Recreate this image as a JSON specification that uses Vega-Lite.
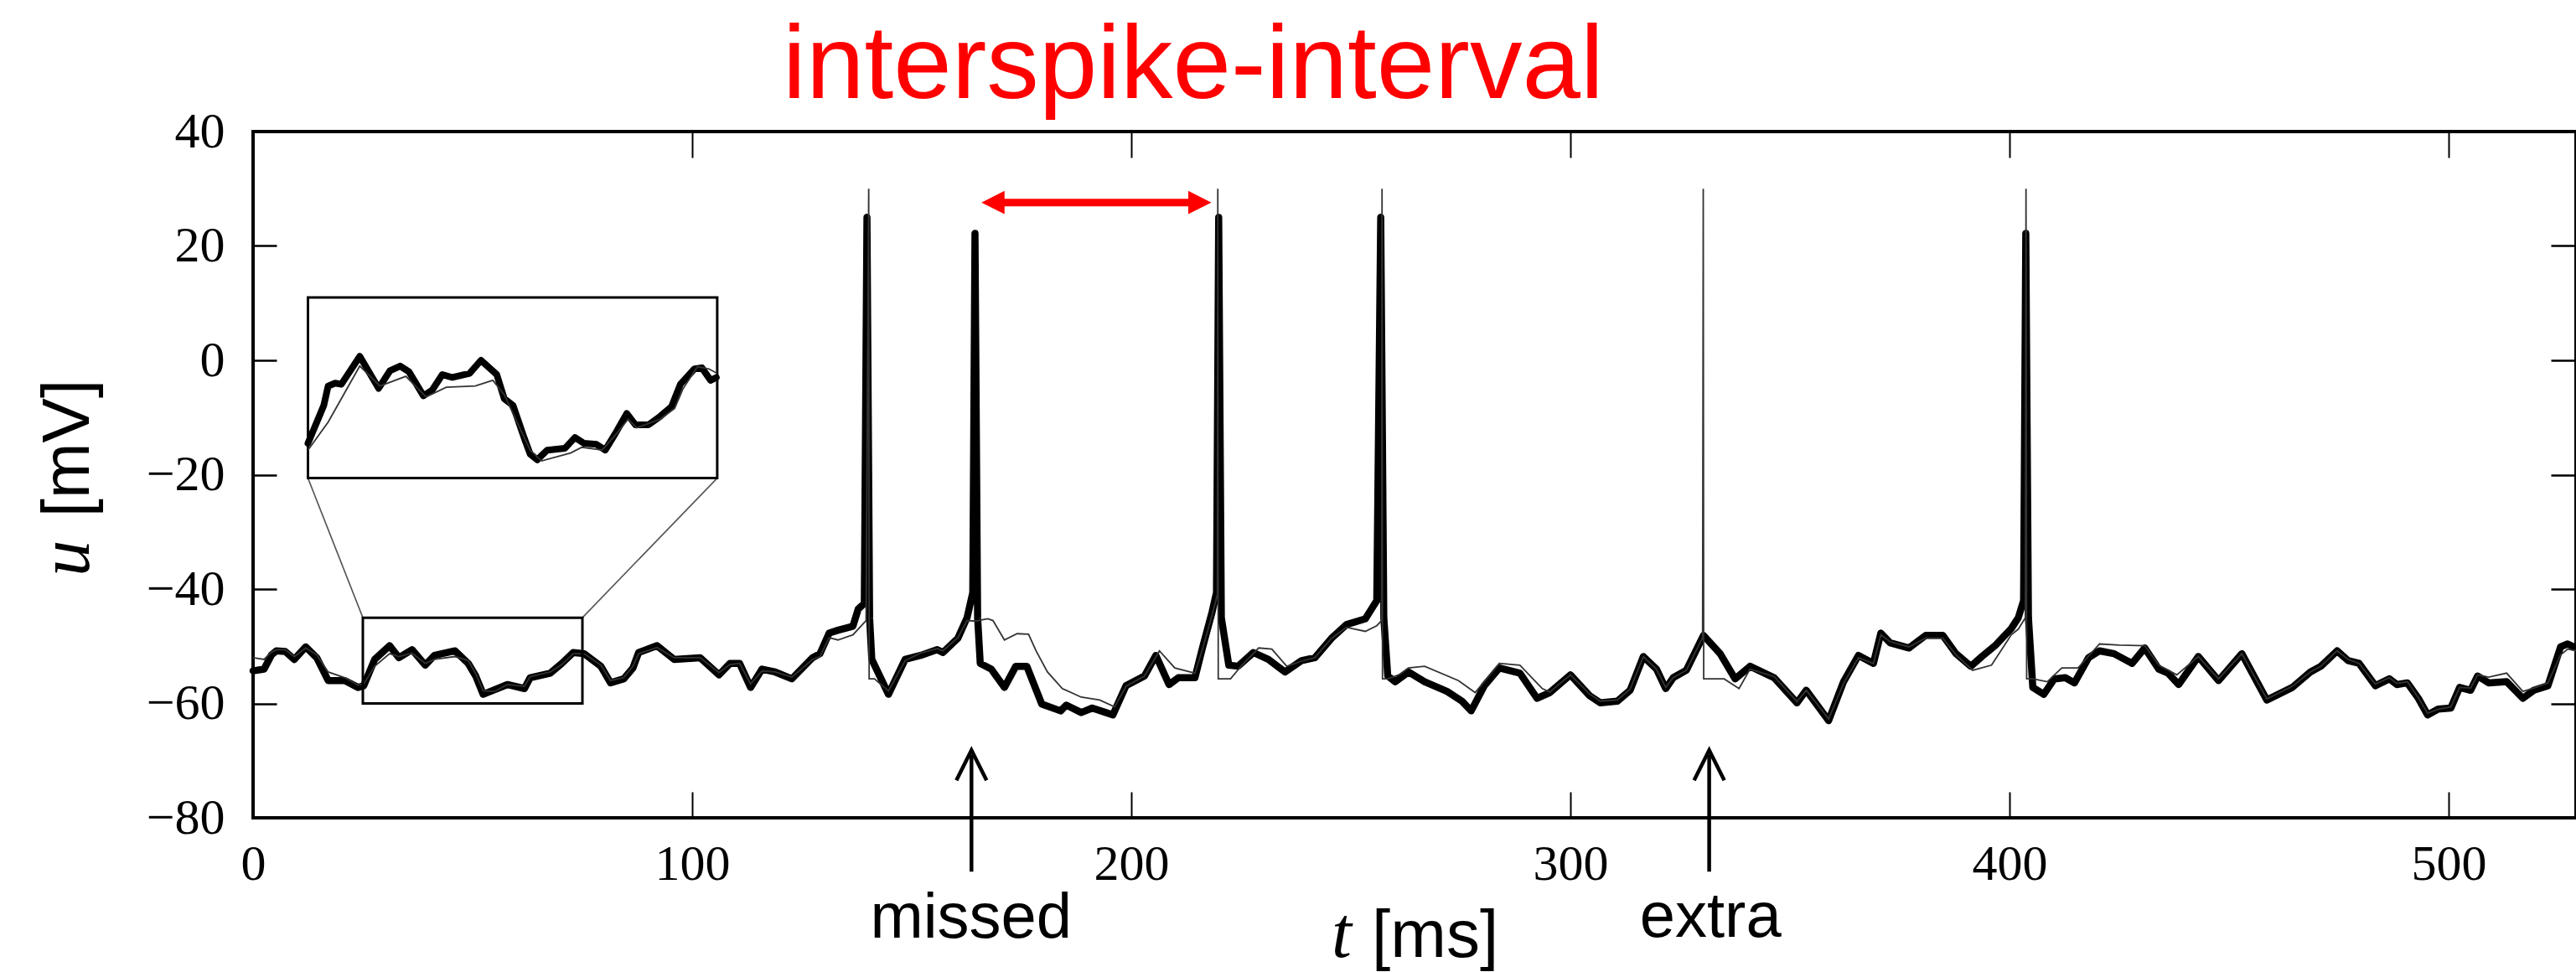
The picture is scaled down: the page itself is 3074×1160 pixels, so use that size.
{
  "$schema": "https://vega.github.io/schema/vega-lite/v6.json",
  "autosize": "none",
  "width": 2772,
  "height": 819,
  "padding": {"left": 302, "top": 157, "right": 0, "bottom": 184},
  "background": "white",
  "config": {"view": {"stroke": "black", "strokeWidth": 4}, "font": "Liberation Sans"},
  "datasets": {
    "exp": [
      {"t":0,"u":-54.3},{"t":2.5,"u":-54.0},{"t":4.2,"u":-51.5},{"t":5.3,"u":-50.8},{"t":7.3,"u":-50.9},{"t":9.4,"u":-52.3},{"t":12,"u":-50.1},{"t":14.5,"u":-52},{"t":17.1,"u":-56},{"t":20.9,"u":-56},{"t":23.9,"u":-57.2},{"t":25.2,"u":-56.9},{"t":27.7,"u":-52.3},{"t":31.1,"u":-49.9},{"t":33.2,"u":-52},{"t":36.2,"u":-50.6},{"t":39.2,"u":-53.3},{"t":41.3,"u":-51.6},{"t":46,"u":-50.8},{"t":49,"u":-53},{"t":50.7,"u":-55.2},{"t":52.4,"u":-58.4},{"t":55,"u":-57.6},{"t":57.9,"u":-56.7},{"t":61.8,"u":-57.4},{"t":63.1,"u":-55.5},{"t":67.7,"u":-54.7},{"t":70.3,"u":-53},{"t":72.9,"u":-51.1},{"t":75.4,"u":-51.3},{"t":79.2,"u":-53.5},{"t":81.4,"u":-56.4},{"t":84.4,"u":-55.7},{"t":86.5,"u":-53.8},{"t":87.8,"u":-51.1},{"t":92,"u":-49.9},{"t":95.9,"u":-52.3},{"t":101.8,"u":-52},{"t":106.1,"u":-55},{"t":108.6,"u":-53},{"t":110.8,"u":-53},{"t":113.3,"u":-57.2},{"t":115.9,"u":-54},{"t":118.9,"u":-54.5},{"t":122.7,"u":-55.7},{"t":127.4,"u":-52},{"t":129.1,"u":-51.3},{"t":131.2,"u":-47.7},{"t":133.2,"u":-47.2},{"t":136.6,"u":-46.5},{"t":137.8,"u":-43.5},{"t":139.2,"u":-42.5},{"t":139.8,"u":25},{"t":140.4,"u":-45},{"t":140.9,"u":-52.3},{"t":144.7,"u":-58.4},{"t":148.5,"u":-52.3},{"t":152,"u":-51.6},{"t":155.8,"u":-50.6},{"t":157.1,"u":-51.1},{"t":160.5,"u":-48.6},{"t":162.6,"u":-45},{"t":163.9,"u":-40.6},{"t":164.4,"u":22.2},{"t":165.0,"u":-45},{"t":165.6,"u":-53},{"t":168.1,"u":-54},{"t":171.1,"u":-57.2},{"t":173.7,"u":-53.5},{"t":176.2,"u":-53.5},{"t":179.6,"u":-60.1},{"t":183.9,"u":-61.3},{"t":185.2,"u":-60.3},{"t":188.6,"u":-61.6},{"t":191.1,"u":-60.8},{"t":195.8,"u":-62},{"t":198.8,"u":-56.9},{"t":203,"u":-55.2},{"t":205.6,"u":-51.6},{"t":208.6,"u":-56.7},{"t":210.7,"u":-55.5},{"t":214.5,"u":-55.5},{"t":216.2,"u":-50.3},{"t":218.4,"u":-44},{"t":219.4,"u":-40.6},{"t":219.9,"u":25},{"t":220.5,"u":-45},{"t":222.2,"u":-53.3},{"t":224.3,"u":-53.5},{"t":227.8,"u":-51.1},{"t":231.2,"u":-52.3},{"t":235,"u":-54.5},{"t":238.8,"u":-52.5},{"t":241.8,"u":-52},{"t":245.6,"u":-48.6},{"t":249,"u":-46.2},{"t":253.3,"u":-45.2},{"t":255.9,"u":-42},{"t":256.8,"u":25},{"t":257.5,"u":-45},{"t":258.4,"u":-55.2},{"t":260.1,"u":-56.2},{"t":263.1,"u":-54.5},{"t":266.8,"u":-56.2},{"t":271.9,"u":-57.9},{"t":275.3,"u":-59.6},{"t":277.4,"u":-61.3},{"t":280.4,"u":-56.9},{"t":283.8,"u":-53.8},{"t":288.5,"u":-54.7},{"t":292.4,"u":-59.1},{"t":295.3,"u":-58.1},{"t":300,"u":-55},{"t":304.3,"u":-58.6},{"t":306.8,"u":-59.9},{"t":310.7,"u":-59.6},{"t":313.6,"u":-57.7},{"t":316.6,"u":-51.8},{"t":319.6,"u":-54},{"t":321.7,"u":-57.4},{"t":323.4,"u":-55.5},{"t":326.4,"u":-54.2},{"t":330.3,"u":-48.1},{"t":334.1,"u":-51.3},{"t":337.5,"u":-55.7},{"t":340.9,"u":-53.5},{"t":346.4,"u":-55.5},{"t":351.6,"u":-59.9},{"t":353.7,"u":-57.7},{"t":358.8,"u":-63},{"t":362.2,"u":-56.2},{"t":365.6,"u":-51.6},{"t":369,"u":-53},{"t":370.7,"u":-47.7},{"t":372.8,"u":-49.4},{"t":377.1,"u":-50.3},{"t":380.9,"u":-48.1},{"t":384.8,"u":-48.1},{"t":387.8,"u":-51.3},{"t":391.2,"u":-53.5},{"t":393.7,"u":-51.8},{"t":396.7,"u":-49.9},{"t":400.4,"u":-46.9},{"t":402,"u":-45},{"t":403.2,"u":-42},{"t":403.7,"u":22.2},{"t":404.3,"u":-45},{"t":405.3,"u":-57.2},{"t":407.8,"u":-58.4},{"t":410.2,"u":-55.7},{"t":412.7,"u":-55.5},{"t":414.8,"u":-56.4},{"t":418,"u":-52},{"t":420.5,"u":-50.8},{"t":423.8,"u":-51.3},{"t":427.9,"u":-53},{"t":430.8,"u":-50.3},{"t":434,"u":-54},{"t":436.1,"u":-54.7},{"t":438.5,"u":-56.7},{"t":443,"u":-51.8},{"t":447.6,"u":-56},{"t":452.9,"u":-51.3},{"t":458.6,"u":-59.4},{"t":464.4,"u":-57.2},{"t":468.5,"u":-54.5},{"t":470.9,"u":-53.5},{"t":474.6,"u":-50.8},{"t":477.1,"u":-52.5},{"t":479.6,"u":-53},{"t":483.3,"u":-56.9},{"t":486.5,"u":-55.7},{"t":488.2,"u":-56.7},{"t":490.6,"u":-56.4},{"t":493.1,"u":-59.1},{"t":495.2,"u":-62},{"t":497.6,"u":-61},{"t":500.5,"u":-60.8},{"t":502.5,"u":-57.2},{"t":505,"u":-57.7},{"t":506.6,"u":-55.2},{"t":509.1,"u":-56.4},{"t":513.2,"u":-56.2},{"t":516.9,"u":-59.1},{"t":519.4,"u":-57.7},{"t":522.6,"u":-56.9},{"t":525.5,"u":-50.1},{"t":527.1,"u":-49.6},{"t":529,"u":-50.3}
    ],
    "model": [
      {"t":0,"u":-52},{"t":2.5,"u":-52.3},{"t":4.2,"u":-51},{"t":5.3,"u":-50.6},{"t":7.3,"u":-50.6},{"t":9.4,"u":-51.8},{"t":12,"u":-50.3},{"t":14.5,"u":-51.5},{"t":17.1,"u":-54.5},{"t":20.9,"u":-55.5},{"t":23.9,"u":-56.8},{"t":25.2,"u":-56.6},{"t":27.7,"u":-53.5},{"t":31.1,"u":-51.3},{"t":33.2,"u":-51.8},{"t":36.2,"u":-51.2},{"t":39.2,"u":-53},{"t":41.3,"u":-52.3},{"t":46,"u":-51.8},{"t":49,"u":-52.5},{"t":50.7,"u":-54.8},{"t":52.4,"u":-57.8},{"t":55,"u":-57.9},{"t":57.9,"u":-56.7},{"t":61.8,"u":-57},{"t":63.1,"u":-55.3},{"t":67.7,"u":-54.5},{"t":70.3,"u":-53.2},{"t":72.9,"u":-51.3},{"t":75.4,"u":-51.3},{"t":79.2,"u":-53.3},{"t":81.4,"u":-56},{"t":84.4,"u":-55.5},{"t":86.5,"u":-53.5},{"t":87.8,"u":-51.3},{"t":92,"u":-50.2},{"t":95.9,"u":-52},{"t":101.8,"u":-52},{"t":106.1,"u":-54.6},{"t":108.6,"u":-53.2},{"t":110.8,"u":-53},{"t":113.3,"u":-56.6},{"t":115.9,"u":-54.3},{"t":118.9,"u":-54.5},{"t":122.7,"u":-55.4},{"t":127.4,"u":-52.3},{"t":129.1,"u":-51.8},{"t":131.2,"u":-48.5},{"t":133.2,"u":-48.9},{"t":136.6,"u":-48},{"t":139.6,"u":-45.5},{"t":140.2,"u":30},{"t":140.3,"u":-55.7},{"t":141.5,"u":-55.7},{"t":144.7,"u":-57.8},{"t":148.5,"u":-52.5},{"t":152,"u":-51.2},{"t":155.8,"u":-50.4},{"t":157.1,"u":-50.8},{"t":160.5,"u":-48.5},{"t":162.6,"u":-45.5},{"t":164.5,"u":-45.6},{"t":167.3,"u":-45.2},{"t":168.5,"u":-45.5},{"t":171.1,"u":-48.9},{"t":174,"u":-47.8},{"t":176.6,"u":-47.9},{"t":178.3,"u":-50.8},{"t":180.9,"u":-54.5},{"t":184.3,"u":-57.4},{"t":188.6,"u":-58.9},{"t":192.8,"u":-59.4},{"t":196.2,"u":-60.6},{"t":198.8,"u":-57},{"t":203,"u":-55.2},{"t":206.4,"u":-50.8},{"t":209.9,"u":-53.8},{"t":214.5,"u":-54.7},{"t":216.2,"u":-50.5},{"t":218.4,"u":-44.5},{"t":219.6,"u":-41},{"t":219.7,"u":30},{"t":219.8,"u":-55.7},{"t":222.6,"u":-55.7},{"t":225.2,"u":-53.3},{"t":229,"u":-50.3},{"t":232,"u":-50.5},{"t":235.4,"u":-53.5},{"t":238.8,"u":-52.6},{"t":241.8,"u":-52},{"t":245.6,"u":-48.6},{"t":249,"u":-46.7},{"t":253.3,"u":-47.4},{"t":255.9,"u":-46.4},{"t":257.0,"u":-45.5},{"t":257.1,"u":30},{"t":257.2,"u":-55.7},{"t":258.4,"u":-55.7},{"t":260.9,"u":-55},{"t":263.1,"u":-53.8},{"t":266.8,"u":-53.5},{"t":274.5,"u":-56},{"t":278.3,"u":-58.1},{"t":283.8,"u":-53},{"t":288.5,"u":-53.3},{"t":293.6,"u":-57.4},{"t":295.3,"u":-58},{"t":300,"u":-55},{"t":304.3,"u":-58.3},{"t":306.8,"u":-59.6},{"t":310.7,"u":-59.4},{"t":313.6,"u":-57.5},{"t":316.6,"u":-51.8},{"t":319.6,"u":-54},{"t":321.7,"u":-57.2},{"t":323.4,"u":-55.5},{"t":326.4,"u":-54.2},{"t":330.1,"u":-48.5},{"t":330.25,"u":30},{"t":330.35,"u":-55.7},{"t":335,"u":-55.7},{"t":338.4,"u":-57.4},{"t":340.9,"u":-54},{"t":346.4,"u":-55.3},{"t":351.6,"u":-59.7},{"t":353.7,"u":-57.7},{"t":358.8,"u":-62.7},{"t":362.2,"u":-56.5},{"t":365.6,"u":-52},{"t":369,"u":-53},{"t":370.7,"u":-48},{"t":372.8,"u":-49.2},{"t":377.1,"u":-50.1},{"t":380.9,"u":-48.6},{"t":384.8,"u":-48.6},{"t":387.8,"u":-51.5},{"t":391.6,"u":-54.2},{"t":395.9,"u":-53.3},{"t":400.4,"u":-48},{"t":402,"u":-47},{"t":403.6,"u":-45},{"t":403.75,"u":30},{"t":403.9,"u":-55.7},{"t":405.3,"u":-55.7},{"t":408.6,"u":-56.2},{"t":411.9,"u":-53.8},{"t":415.6,"u":-53.8},{"t":420.5,"u":-49.6},{"t":425,"u":-49.8},{"t":430.8,"u":-49.9},{"t":434,"u":-53.3},{"t":438.1,"u":-55},{"t":443,"u":-51.8},{"t":447.6,"u":-55.7},{"t":452.9,"u":-51.3},{"t":458.6,"u":-59.2},{"t":464.4,"u":-57},{"t":468.5,"u":-54.5},{"t":470.9,"u":-53.5},{"t":474.6,"u":-50.8},{"t":477.1,"u":-52.3},{"t":479.6,"u":-53},{"t":483.3,"u":-56.6},{"t":486.5,"u":-55.5},{"t":488.2,"u":-56.5},{"t":490.6,"u":-56.2},{"t":493.1,"u":-59},{"t":495.2,"u":-61.7},{"t":497.6,"u":-61},{"t":500.5,"u":-60.6},{"t":502.5,"u":-57.2},{"t":505,"u":-57.3},{"t":506.6,"u":-55},{"t":509.1,"u":-55.4},{"t":513.2,"u":-54.7},{"t":516.9,"u":-57.9},{"t":519.4,"u":-57.3},{"t":522.6,"u":-56.4},{"t":525.5,"u":-51.5},{"t":527.1,"u":-50.5},{"t":529,"u":-50.8}
    ],
    "insetExp": [
      {"t":12.5,"u":-14.5},{"t":16.1,"u":-7.9},{"t":17.1,"u":-4.5},{"t":18.7,"u":-4},{"t":20.1,"u":-4.2},{"t":24.3,"u":0.7},{"t":28.6,"u":-4.9},{"t":31.2,"u":-1.8},{"t":33.5,"u":-1},{"t":35.5,"u":-2},{"t":38.8,"u":-6.2},{"t":40.8,"u":-5.2},{"t":43.1,"u":-2.5},{"t":45.4,"u":-3},{"t":49.3,"u":-2.3},{"t":51.9,"u":0},{"t":55.5,"u":-2.5},{"t":57.2,"u":-6.7},{"t":59.2,"u":-7.9},{"t":61.8,"u":-13.7},{"t":63.1,"u":-16.4},{"t":64.7,"u":-17.4},{"t":67,"u":-15.7},{"t":71,"u":-15.4},{"t":73.3,"u":-13.5},{"t":75.3,"u":-14.5},{"t":78.2,"u":-14.7},{"t":80.2,"u":-15.7},{"t":82.5,"u":-12.8},{"t":85.1,"u":-9.3},{"t":87.1,"u":-11.3},{"t":90,"u":-11.3},{"t":92.7,"u":-9.8},{"t":95.3,"u":-8.1},{"t":97.3,"u":-4.2},{"t":100.5,"u":-1.5},{"t":102.2,"u":-1.3},{"t":104.2,"u":-3.5},{"t":105.5,"u":-3}
    ],
    "insetModel": [
      {"t":12.5,"u":-15.7},{"t":17.1,"u":-10.8},{"t":24.3,"u":-1},{"t":28.9,"u":-4.5},{"t":34.8,"u":-2.8},{"t":39.4,"u":-6.4},{"t":44,"u":-4.7},{"t":50.6,"u":-4.5},{"t":54.6,"u":-3.5},{"t":57.2,"u":-6},{"t":59.8,"u":-10.3},{"t":63.1,"u":-15.7},{"t":65.7,"u":-17.6},{"t":72.3,"u":-16.2},{"t":74.9,"u":-15.2},{"t":79.5,"u":-15.7},{"t":82.8,"u":-12.8},{"t":85.4,"u":-10.3},{"t":87.4,"u":-11.8},{"t":92.7,"u":-10.3},{"t":96,"u":-8.4},{"t":97.9,"u":-5},{"t":101.2,"u":-1.1},{"t":103.8,"u":-1.5},{"t":105.5,"u":-2.2}
    ],
    "connectors": [
      {"t":25,"u":-45,"t2":12.5,"u2":-20.6},
      {"t":75,"u":-45,"t2":105.7,"u2":-20.6}
    ],
    "smallBox": [{"t":25,"t2":75,"u":-60,"u2":-45}],
    "insetBox": [{"t":12.5,"t2":105.7,"u":-20.6,"u2":11}],
    "redShaft": [{"t":168.5,"t2":215.6,"u":27.6}],
    "redLeft": [{"t":168.5,"u":27.6}],
    "redRight": [{"t":215.6,"u":27.6}],
    "blackShafts": [{"t":163.6,"u":-89.4,"u2":-69},{"t":331.6,"u":-89.4,"u2":-69}],
    "blackHeads": [{"t":163.6,"u":-70.8},{"t":331.6,"u":-70.8}],
    "title": [{"t":214.1,"u":45.8,"label":"interspike-interval"}],
    "notes": [{"t":163.5,"u":-101,"label":"missed"},{"t":331.9,"u":-100.8,"label":"extra"}],
    "xUnit": [{"t":269.2,"u":-104.3,"label":"[ms]"}],
    "xSym": [{"t":247.9,"u":-104.3,"label":"t"}],
    "yUnit": [{"t":-37.4,"u":-15.4,"label":"[mV]"}],
    "ySym": [{"t":-37.4,"u":-34.6,"label":"u"}]
  },
  "resolve": {"axis": {"x": "independent", "y": "independent"}},
  "layer": [
    {
      "data": {"name": "exp"},
      "mark": {"type": "line", "color": "black", "strokeWidth": 8.5, "strokeJoin": "round", "strokeCap": "round"},
      "encoding": {
        "x": {"field": "t", "type": "quantitative", "scale": {"domain": [0, 529], "nice": false, "zero": false},
          "axis": {"orient": "bottom", "values": [0, 100, 200, 300, 400, 500], "title": null, "domain": false, "grid": false,
            "tickSize": -31, "tickWidth": 2, "tickColor": "black", "labelFont": "Liberation Serif", "labelFontSize": 60,
            "labelColor": "black", "labelPadding": 57, "labelFlush": false, "labelOverlap": false}},
        "y": {"field": "u", "type": "quantitative", "scale": {"domain": [-80, 40], "nice": false, "zero": false},
          "axis": {"orient": "left", "values": [-80, -60, -40, -20, 0, 20, 40], "title": null, "domain": false, "grid": false,
            "tickSize": -28, "tickWidth": 2.5, "tickColor": "black", "labelFont": "Liberation Serif", "labelFontSize": 60,
            "labelColor": "black", "labelPadding": 62, "labelOverlap": false}}
      }
    },
    {
      "data": {"name": "model"},
      "mark": {"type": "line", "color": "#333333", "strokeWidth": 1.8},
      "encoding": {
        "x": {"field": "t", "type": "quantitative",
          "axis": {"orient": "top", "values": [0, 100, 200, 300, 400, 500], "title": null, "domain": false, "grid": false,
            "labels": false, "tickSize": -31, "tickWidth": 2, "tickColor": "black"}},
        "y": {"field": "u", "type": "quantitative",
          "axis": {"orient": "right", "values": [-80, -60, -40, -20, 0, 20, 40], "title": null, "domain": false, "grid": false,
            "labels": false, "tickSize": -30, "tickWidth": 2.5, "tickColor": "black"}}
      }
    },
    {
      "data": {"name": "connectors"},
      "mark": {"type": "rule", "color": "#555555", "strokeWidth": 1.6},
      "encoding": {
        "x": {"field": "t", "type": "quantitative", "axis": null},
        "x2": {"field": "t2"},
        "y": {"field": "u", "type": "quantitative", "axis": null},
        "y2": {"field": "u2"}
      }
    },
    {
      "data": {"name": "smallBox"},
      "mark": {"type": "rect", "filled": false, "color": "black", "strokeWidth": 3},
      "encoding": {
        "x": {"field": "t", "type": "quantitative", "axis": null},
        "x2": {"field": "t2"},
        "y": {"field": "u", "type": "quantitative", "axis": null},
        "y2": {"field": "u2"}
      }
    },
    {
      "data": {"name": "insetBox"},
      "mark": {"type": "rect", "fill": "white", "stroke": "black", "strokeWidth": 3},
      "encoding": {
        "x": {"field": "t", "type": "quantitative", "axis": null},
        "x2": {"field": "t2"},
        "y": {"field": "u", "type": "quantitative", "axis": null},
        "y2": {"field": "u2"}
      }
    },
    {
      "data": {"name": "insetExp"},
      "mark": {"type": "line", "color": "black", "strokeWidth": 8, "strokeJoin": "round", "strokeCap": "round"},
      "encoding": {
        "x": {"field": "t", "type": "quantitative", "axis": null},
        "y": {"field": "u", "type": "quantitative", "axis": null}
      }
    },
    {
      "data": {"name": "insetModel"},
      "mark": {"type": "line", "color": "#333333", "strokeWidth": 1.8},
      "encoding": {
        "x": {"field": "t", "type": "quantitative", "axis": null},
        "y": {"field": "u", "type": "quantitative", "axis": null}
      }
    },
    {
      "data": {"name": "redShaft"},
      "mark": {"type": "rule", "color": "#ff0000", "strokeWidth": 9},
      "encoding": {
        "x": {"field": "t", "type": "quantitative", "axis": null},
        "x2": {"field": "t2"},
        "y": {"field": "u", "type": "quantitative", "axis": null}
      }
    },
    {
      "data": {"name": "redLeft"},
      "mark": {"type": "point", "shape": "M-1,0L1,-1L1,1Z", "filled": true, "color": "#ff0000", "size": 760, "opacity": 1},
      "encoding": {
        "x": {"field": "t", "type": "quantitative", "axis": null},
        "y": {"field": "u", "type": "quantitative", "axis": null}
      }
    },
    {
      "data": {"name": "redRight"},
      "mark": {"type": "point", "shape": "M1,0L-1,-1L-1,1Z", "filled": true, "color": "#ff0000", "size": 760, "opacity": 1},
      "encoding": {
        "x": {"field": "t", "type": "quantitative", "axis": null},
        "y": {"field": "u", "type": "quantitative", "axis": null}
      }
    },
    {
      "data": {"name": "blackShafts"},
      "mark": {"type": "rule", "color": "black", "strokeWidth": 4.5},
      "encoding": {
        "x": {"field": "t", "type": "quantitative", "axis": null},
        "y": {"field": "u", "type": "quantitative", "axis": null},
        "y2": {"field": "u2"}
      }
    },
    {
      "data": {"name": "blackHeads"},
      "mark": {"type": "point", "shape": "M-1,1L0,-1L1,1", "filled": false, "color": "black", "strokeWidth": 4.5, "size": 1296, "opacity": 1},
      "encoding": {
        "x": {"field": "t", "type": "quantitative", "axis": null},
        "y": {"field": "u", "type": "quantitative", "axis": null}
      }
    },
    {
      "data": {"name": "title"},
      "mark": {"type": "text", "font": "Liberation Sans", "fontSize": 125, "color": "#ff0000", "align": "center", "baseline": "alphabetic"},
      "encoding": {
        "x": {"field": "t", "type": "quantitative", "axis": null},
        "y": {"field": "u", "type": "quantitative", "axis": null},
        "text": {"field": "label"}
      }
    },
    {
      "data": {"name": "notes"},
      "mark": {"type": "text", "font": "Liberation Sans", "fontSize": 76, "color": "black", "align": "center", "baseline": "alphabetic"},
      "encoding": {
        "x": {"field": "t", "type": "quantitative", "axis": null},
        "y": {"field": "u", "type": "quantitative", "axis": null},
        "text": {"field": "label"}
      }
    },
    {
      "data": {"name": "xUnit"},
      "mark": {"type": "text", "font": "Liberation Sans", "fontSize": 80, "color": "black", "align": "center", "baseline": "alphabetic"},
      "encoding": {
        "x": {"field": "t", "type": "quantitative", "axis": null},
        "y": {"field": "u", "type": "quantitative", "axis": null},
        "text": {"field": "label"}
      }
    },
    {
      "data": {"name": "xSym"},
      "mark": {"type": "text", "font": "Liberation Serif", "fontStyle": "italic", "fontSize": 86, "color": "black", "align": "center", "baseline": "alphabetic"},
      "encoding": {
        "x": {"field": "t", "type": "quantitative", "axis": null},
        "y": {"field": "u", "type": "quantitative", "axis": null},
        "text": {"field": "label"}
      }
    },
    {
      "data": {"name": "yUnit"},
      "mark": {"type": "text", "font": "Liberation Sans", "fontSize": 80, "color": "black", "align": "center", "baseline": "alphabetic", "angle": 270},
      "encoding": {
        "x": {"field": "t", "type": "quantitative", "axis": null},
        "y": {"field": "u", "type": "quantitative", "axis": null},
        "text": {"field": "label"}
      }
    },
    {
      "data": {"name": "ySym"},
      "mark": {"type": "text", "font": "Liberation Serif", "fontStyle": "italic", "fontSize": 86, "color": "black", "align": "center", "baseline": "alphabetic", "angle": 270},
      "encoding": {
        "x": {"field": "t", "type": "quantitative", "axis": null},
        "y": {"field": "u", "type": "quantitative", "axis": null},
        "text": {"field": "label"}
      }
    }
  ]
}
